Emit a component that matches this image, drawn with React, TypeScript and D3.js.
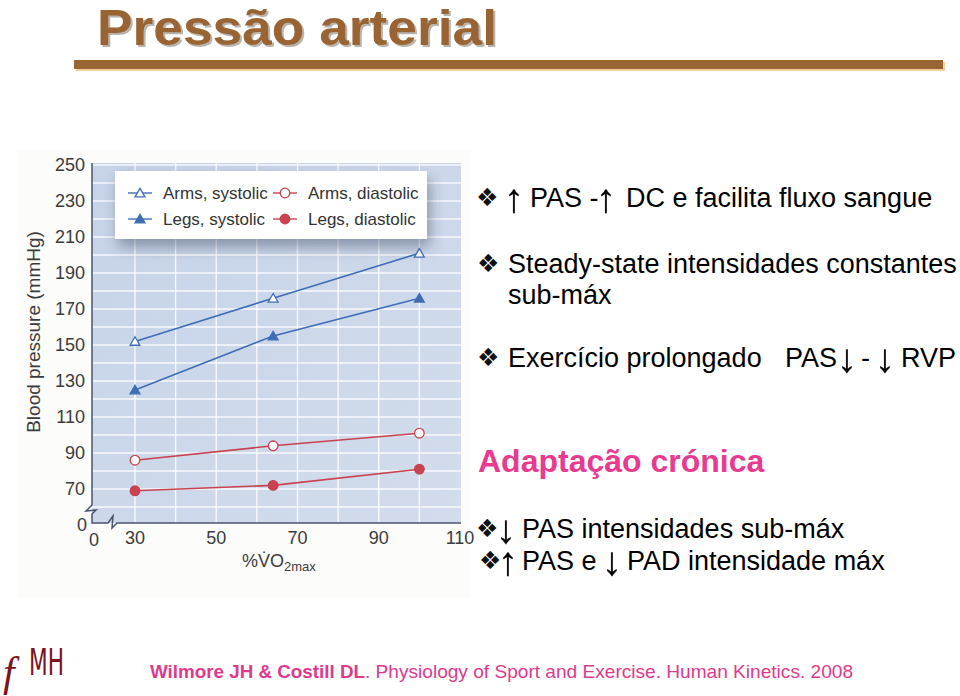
import React from 'react';
import * as d3 from 'd3';

// %VO2max at which pressures were measured
const intensity = [30, 64, 100];
const armsSystolic = [152, 176, 201];
const legsSystolic = [125, 155, 176];
const armsDiastolic = [86, 94, 101];
const legsDiastolic = [69, 72, 81];

const yTicks = [70, 90, 110, 130, 150, 170, 190, 210, 230, 250];
const xTicks = [30, 50, 70, 90, 110];
const xGrid = [30, 40, 50, 60, 70, 80, 90, 100];
const yGrid = [60, 70, 80, 90, 100, 110, 120, 130, 140, 150, 160, 170, 180, 190, 200, 210, 220, 230, 240, 250];

const series = [
  { name: 'Arms, systolic', values: armsSystolic, color: '#3f6db5', shape: 'tri', filled: false },
  { name: 'Legs, systolic', values: legsSystolic, color: '#3f6db5', shape: 'tri', filled: true },
  { name: 'Arms, diastolic', values: armsDiastolic, color: '#c9424f', shape: 'circle', filled: false },
  { name: 'Legs, diastolic', values: legsDiastolic, color: '#c9424f', shape: 'circle', filled: true },
];

const SANS = '"Liberation Sans", Arial, Helvetica, sans-serif';
const SYM = '"DejaVu Sans", sans-serif';

const x = d3.scaleLinear().domain([30, 110]).range([135, 460]);
const y = d3.scaleLinear().domain([70, 250]).range([489, 165]);

const plot = { left: 92, right: 461, top: 163, bottom: 523 };

const marker = (shape: string) =>
  shape === 'tri'
    ? d3.symbol(d3.symbolTriangle).size(42)()
    : d3.symbol(d3.symbolCircle).size(72)();

const Marker = ({ s, cx, cy }: any) => (
  <path
    d={marker(s.shape) || ''}
    transform={`translate(${cx},${cy + (s.shape === 'tri' ? 1 : 0)})`}
    fill={s.filled ? s.color : '#fff'}
    stroke={s.color}
    strokeWidth={1.3}
  />
);

const Bullet = ({ bx, by }: { bx: number; by: number }) => (
  <text x={bx} y={by} fontFamily={SYM} fontSize={25} fill="#111">❖</text>
);

// thin arrow glyph; rendered through a no-op filter so it gets grey antialiasing
const Arrow = ({ c, ax, ay }: { c: string; ax: number; ay: number }) => (
  <text x={ax} y={ay + 5} textAnchor="middle" fontFamily={SANS} fontSize={40} fill="#000"
    stroke="#000" strokeWidth={0.3} filter="url(#plain)">{c}</text>
);

export default function App() {
  const line = d3
    .line<number>()
    .x((_, i) => x(intensity[i]))
    .y((d) => y(d));

  const legendPos = [
    { lx: 128, ly: 193 },
    { lx: 128, ly: 219 },
    { lx: 273, ly: 193 },
    { lx: 273, ly: 219 },
  ];

  return (
    <svg width={960} height={696} style={{ position: 'absolute', left: 0, top: 0 }}>
      <defs>
        <linearGradient id="plotBg" x1="0" y1="0" x2="1" y2="1">
          <stop offset="0" stopColor="#c6d3e8" />
          <stop offset="1" stopColor="#d2dcec" />
        </linearGradient>
        <filter id="legShadow" x="-20%" y="-40%" width="150%" height="220%">
          <feDropShadow dx="3" dy="8" stdDeviation="7" floodColor="#33415a" floodOpacity="0.45" />
        </filter>
        <filter id="titleShadow" x="-5%" y="-20%" width="110%" height="150%">
          <feDropShadow dx="2" dy="2" stdDeviation="0.6" floodColor="#9a948c" floodOpacity="0.7" />
        </filter>
        <filter id="plain" x="-50%" y="-20%" width="200%" height="140%">
          <feOffset dx="0" dy="0" />
        </filter>
      </defs>
      <rect width={960} height={696} fill="#fff" />

      {/* title */}
      <text x={97} y={45} fontFamily={SANS} fontWeight="bold" fontSize={50} fill="#9a6431"
        textLength={400} lengthAdjust="spacingAndGlyphs" filter="url(#titleShadow)">Pressão arterial</text>
      <rect x={76} y={62} width={869} height={9} fill="#f2cf9c" />
      <rect x={74} y={60} width={869} height={9} fill="#996633" />

      {/* scanned page */}
      <rect x={18} y={150} width={452} height={448} fill="#fcfcfb" />

      {/* plot area */}
      <rect x={plot.left} y={plot.top} width={plot.right - plot.left} height={plot.bottom - plot.top}
        fill="url(#plotBg)" />
      {xGrid.map((v) => (
        <line key={'gx' + v} x1={x(v)} x2={x(v)} y1={plot.top} y2={plot.bottom} stroke="#fff" strokeOpacity={0.85} strokeWidth={1.4} />
      ))}
      {yGrid.map((v) => (
        <line key={'gy' + v} x1={plot.left} x2={plot.right} y1={y(v)} y2={y(v)} stroke="#fff" strokeOpacity={0.85} strokeWidth={1.4} />
      ))}

      {/* axes with break */}
      <path
        d={`M${plot.left},${plot.top} V505 L86,511 L96,510 L92,514 V${plot.bottom} H108 L113,516 L112,528 L117,${plot.bottom} H${plot.right}`}
        fill="none" stroke="#4a5470" strokeWidth={1.5} />

      {yTicks.map((v) => (
        <text key={'yt' + v} x={85} y={y(v)} dy="0.36em" textAnchor="end" fontFamily={SANS} fontSize={18} fill="#3b3b3b">{v}</text>
      ))}
      <text x={87} y={531} textAnchor="end" fontFamily={SANS} fontSize={18} fill="#3b3b3b">0</text>
      {xTicks.map((v) => (
        <text key={'xt' + v} x={x(v)} y={544} textAnchor="middle" fontFamily={SANS} fontSize={18} fill="#3b3b3b">{v}</text>
      ))}
      <text x={94} y={546} textAnchor="middle" fontFamily={SANS} fontSize={18} fill="#3b3b3b">0</text>

      <text transform="translate(40,332) rotate(-90)" textAnchor="middle" fontFamily={SANS} fontSize={19} fill="#3b3b3b">
        Blood pressure (mmHg)
      </text>
      <text x={242} y={567} fontFamily={SANS} fontSize={18} fill="#3b3b3b">
        %V̇O<tspan fontSize={13} dy={4}>2max</tspan>
      </text>

      {/* data */}
      {series.map((s) => (
        <g key={s.name}>
          <path d={line(s.values) || ''} fill="none" stroke={s.color} strokeWidth={1.6} />
          {s.values.map((v, i) => (
            <Marker key={i} s={s} cx={x(intensity[i])} cy={y(v)} />
          ))}
        </g>
      ))}

      {/* legend */}
      <rect x={115} y={171} width={312} height={68} fill="#fff" filter="url(#legShadow)" />
      {series.map((s, i) => {
        const p = legendPos[i];
        return (
          <g key={'lg' + s.name}>
            <line x1={p.lx} x2={p.lx + 24} y1={p.ly} y2={p.ly} stroke={s.color} strokeWidth={1.4} />
            <Marker s={s} cx={p.lx + 12} cy={p.ly} />
            <text x={p.lx + 35} y={p.ly} dy="0.35em" fontFamily={SANS} fontSize={17} fill="#333">{s.name}</text>
          </g>
        );
      })}

      {/* notes */}
      <g fontFamily={SANS} fontSize={27} fill="#000">
        <Bullet bx={476} by={206} />
        <Arrow c="↑" ax={514} ay={207} />
        <text x={530} y={207}>PAS -</text>
        <Arrow c="↑" ax={606} ay={207} />
        <text x={626} y={207}>DC e facilita fluxo sangue</text>

        <Bullet bx={477} by={272} />
        <text x={508} y={273}>Steady-state intensidades constantes</text>
        <text x={508} y={304}>sub-máx</text>

        <Bullet bx={477} by={366} />
        <text x={508} y={367}>Exercício prolongado</text>
        <text x={785} y={367}>PAS</text>
        <Arrow c="↓" ax={847} ay={367} />
        <text x={861} y={367}>-</text>
        <Arrow c="↓" ax={885} ay={367} />
        <text x={901} y={367}>RVP</text>
      </g>
      <text x={478} y={472} fontFamily={SANS} fontWeight="bold" fontSize={32} fill="#e83a8f">Adaptação crónica</text>
      <g fontFamily={SANS} fontSize={27} fill="#000">
        <Bullet bx={476} by={537} />
        <Arrow c="↓" ax={506} ay={538} />
        <text x={522} y={538}>PAS intensidades sub-máx</text>

        <Bullet bx={479} by={569} />
        <Arrow c="↑" ax={508} ay={570} />
        <text x={522} y={570}>PAS e</text>
        <Arrow c="↓" ax={612} ay={570} />
        <text x={627} y={570}>PAD intensidade máx</text>
      </g>

      {/* footer */}
      <text x={3} y={686} fontFamily='"Liberation Serif", "DejaVu Serif", serif' fontStyle="italic" fontSize={42} fill="#7a1422">f</text>
      <text x={29} y={675} fontFamily='"DejaVu Sans Condensed", "DejaVu Sans", sans-serif' fontSize={38} fill="#7a1422"
        textLength={35} lengthAdjust="spacingAndGlyphs">MH</text>
      <text x={150} y={678} fontFamily={SANS} fontWeight="bold" fontSize={19} fill="#de3a8c"
        textLength={215} lengthAdjust="spacingAndGlyphs">Wilmore JH &amp; Costill DL</text>
      <text x={365} y={678} fontFamily={SANS} fontSize={19} fill="#de3a8c"
        textLength={488} lengthAdjust="spacingAndGlyphs">. Physiology of Sport and Exercise. Human  Kinetics. 2008</text>
    </svg>
  );
}
